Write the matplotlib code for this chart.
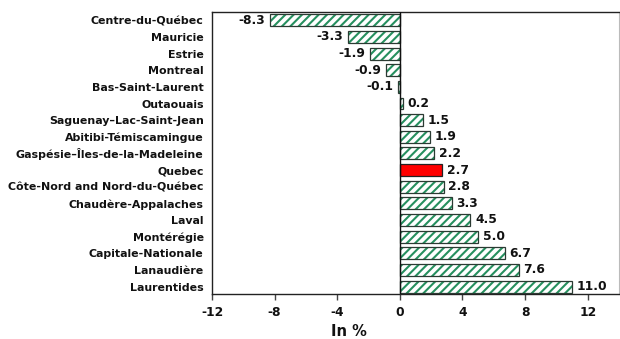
import matplotlib
matplotlib.use("Agg")
import matplotlib.pyplot as plt

regions = [
    "Centre-du-Québec", "Mauricie", "Estrie", "Montreal", "Bas-Saint-Laurent",
    "Outaouais", "Saguenay–Lac-Saint-Jean", "Abitibi-Témiscamingue",
    "Gaspésie–Îles-de-la-Madeleine", "Quebec", "Côte-Nord and Nord-du-Québec",
    "Chaudère-Appalaches", "Laval", "Montérégie", "Capitale-Nationale",
    "Lanaudière", "Laurentides",
]
values = [-8.3, -3.3, -1.9, -0.9, -0.1, 0.2, 1.5, 1.9, 2.2, 2.7, 2.8, 3.3,
          4.5, 5.0, 6.7, 7.6, 11.0]
highlight = "Quebec"
xticks = [-12, -8, -4, 0, 4, 8, 12]

plt.rcParams["font.family"] = ["DejaVu Sans"]
plt.rcParams["font.weight"] = "bold"
plt.rcParams["hatch.linewidth"] = 1.5

fig = plt.figure(figsize=(6.2, 3.39), dpi=100)
ax = fig.add_axes([212 / 620, 1 - 294 / 339, 407 / 620, 282 / 339])

pos = list(range(len(regions)))
h = 0.72
for y, name, v in zip(pos, regions, values):
    if name == highlight:
        ax.barh(y, v, height=h, color="#ff0000", edgecolor="#222222",
                linewidth=0.9, zorder=3)
    else:
        ax.barh(y, v, height=h, color="white", edgecolor="#26905f",
                hatch="////", linewidth=0, zorder=3)
        ax.barh(y, v, height=h, fill=False, edgecolor="#2b3b33",
                linewidth=0.9, zorder=4)
    if v < 0:
        ax.text(v - 0.3, y, f"{v:.1f}", ha="right", va="center",
                fontsize=8.8, fontweight="bold", color="#111111")
    else:
        ax.text(v + 0.3, y, f"{v:.1f}", ha="left", va="center",
                fontsize=8.8, fontweight="bold", color="#111111")

ax.axvline(0, color="#111111", linewidth=1.0, zorder=5)
ax.set_xlim(-12, 14)
ax.set_ylim(16.45, -0.5)
ax.set_yticks(pos)
ax.set_yticklabels(regions, fontsize=7.9, fontweight="bold", color="#111111")
ax.tick_params(axis="y", length=0, pad=6)
ax.set_xticks(xticks)
ax.set_xticklabels([str(t) for t in xticks], fontsize=8.8, fontweight="bold",
                   color="#111111")
ax.tick_params(axis="x", direction="out", length=4, width=1, color="#444444", pad=5)

for side in ["left", "bottom", "top"]:
    ax.spines[side].set_color("#222222")
    ax.spines[side].set_linewidth(1.0)
ax.spines["right"].set_color("#bbbbbb")
ax.spines["right"].set_linewidth(0.8)

fig.text(349 / 620, 1 - 332 / 339, "In %", ha="center", va="center",
         fontsize=10.5, fontweight="bold", color="#111111")

fig.savefig("out.png", dpi=100)
